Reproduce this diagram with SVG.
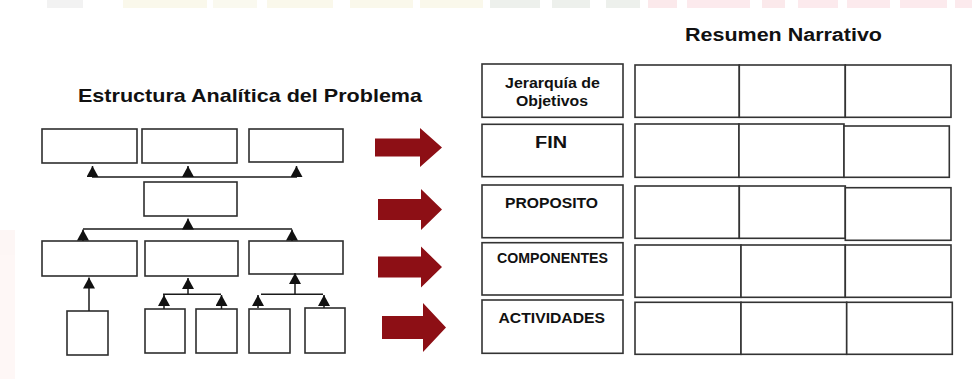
<svg xmlns="http://www.w3.org/2000/svg" width="972" height="379" viewBox="0 0 972 379">
<style>
.box{fill:#fff;stroke:#2e2e2e;stroke-width:1.6}
.cell{fill:#fff;stroke:#333;stroke-width:1.6}
.ln{fill:none;stroke:#1a1a1a;stroke-width:1.5}
.ar{fill:none;stroke:#1a1a1a;stroke-width:1.5;marker-end:url(#tri)}
.red{fill:#8d0f15}
.t{font-family:"Liberation Sans",Arial,sans-serif;font-weight:bold;fill:#111;text-anchor:start}
.band{opacity:0.35}
</style>
<defs>
<marker id="tri" markerUnits="userSpaceOnUse" markerWidth="11" markerHeight="12" viewBox="0 0 11 12" refX="11" refY="6" orient="auto">
<path d="M0,0 L11,6 L0,12 Z" fill="#111"/>
</marker>
</defs>
<rect width="972" height="379" fill="#fff"/>
<g id="background-band" class="band">
<rect x="47" y="0" width="36" height="8" fill="#dcdcdc"/>
<rect x="123" y="0" width="84" height="8" fill="#f1ecc8"/>
<rect x="213" y="0" width="44" height="8" fill="#f3efd2"/>
<rect x="267" y="0" width="66" height="8" fill="#f1ecc8"/>
<rect x="350" y="0" width="63" height="8" fill="#f1ecc8"/>
<rect x="420" y="0" width="63" height="8" fill="#f1ecc8"/>
<rect x="490" y="0" width="50" height="8" fill="#cdd6c9"/>
<rect x="552" y="0" width="38" height="8" fill="#cdd6c9"/>
<rect x="606" y="0" width="34" height="8" fill="#cdd6c9"/>
<rect x="648" y="0" width="29" height="8" fill="#f4c2c8"/>
<rect x="687" y="0" width="63" height="8" fill="#f7c6cc"/>
<rect x="762" y="0" width="23" height="8" fill="#f4c2c8"/>
<rect x="798" y="0" width="40" height="8" fill="#f7c6cc"/>
<rect x="847" y="0" width="43" height="8" fill="#f7c6cc"/>
<rect x="900" y="0" width="47" height="8" fill="#f7c6cc"/>
<rect x="955" y="0" width="17" height="8" fill="#f7c6cc"/>
<rect x="0" y="230" width="15" height="149" fill="#fbe8e4"/>
</g>

<text id="title-left" class="t" x="78" y="101.5" font-size="19" textLength="344" lengthAdjust="spacingAndGlyphs">Estructura Analítica del Problema</text>
<text id="title-right" class="t" x="685" y="41" font-size="18" textLength="197" lengthAdjust="spacingAndGlyphs">Resumen Narrativo</text>

<g id="tree-nodes">
<g id="n-top1"><rect class="box" x="42" y="129" width="95" height="34"/></g>
<g id="n-top2"><rect class="box" x="142" y="129" width="95" height="34"/></g>
<g id="n-top3"><rect class="box" x="249" y="129" width="94" height="33"/></g>
<g id="n-mid"><rect class="box" x="144" y="182" width="93" height="34"/></g>
<g id="n-row1"><rect class="box" x="42" y="241" width="95" height="35"/></g>
<g id="n-row2"><rect class="box" x="145" y="241" width="93" height="35"/></g>
<g id="n-row3"><rect class="box" x="249" y="241" width="94" height="33"/></g>
<g id="n-bot1"><rect class="box" x="67" y="311" width="41" height="44"/></g>
<g id="n-bot2"><rect class="box" x="145" y="309" width="40" height="44"/></g>
<g id="n-bot3"><rect class="box" x="196" y="309" width="41" height="44"/></g>
<g id="n-bot4"><rect class="box" x="249" y="309" width="41" height="44"/></g>
<g id="n-bot5"><rect class="box" x="305" y="308" width="40" height="45"/></g>
</g>

<g id="connectors">
<path class="ln" d="M92,177 H297"/>
<path class="ar" d="M92.5,177 V166"/>
<path class="ar" d="M188,177 V166"/>
<path class="ar" d="M296.5,177 V166"/>
<path class="ln" d="M83,229 H292"/>
<path class="ar" d="M188,229 V218.5"/>
<path class="ar" d="M83,241 V229.5"/>
<path class="ar" d="M292,241 V229.5"/>
<path class="ar" d="M89,311 V277.5"/>
<path class="ln" d="M163,294.3 H221"/>
<path class="ar" d="M188,294.3 V278"/>
<path class="ar" d="M164,309 V295"/>
<path class="ar" d="M221.5,309 V295"/>
<path class="ln" d="M261,294.3 H323"/>
<path class="ar" d="M295,294.3 V273"/>
<path class="ar" d="M258,308 V295"/>
<path class="ar" d="M324,308 V295"/>
</g>

<g id="red-arrows">
<polygon class="red" points="375,138.5 420,138.5 420,128 442,147.5 420,167 420,156.5 375,156.5"/>
<polygon class="red" points="378,199 421,199 421,189 442,209.5 421,230 421,220 378,220"/>
<polygon class="red" points="378,256.5 421,256.5 421,246.5 442,267 421,287.5 421,277.5 378,277.5"/>
<polygon class="red" points="382,316 423,316 423,303 446,327.5 423,352 423,339 382,339"/>
</g>

<g id="labels">
<g id="lbl-jerarquia"><rect class="cell" x="482" y="64" width="141" height="53.3"/>
<text class="t" x="505" y="88.3" font-size="14" textLength="95" lengthAdjust="spacingAndGlyphs">Jerarquía de</text>
<text class="t" x="516" y="106" font-size="14" textLength="72" lengthAdjust="spacingAndGlyphs">Objetivos</text></g>
<g id="lbl-fin"><rect class="cell" x="482" y="124.3" width="141" height="52.4"/>
<text class="t" x="535" y="148" font-size="16" textLength="32" lengthAdjust="spacingAndGlyphs">FIN</text></g>
<g id="lbl-proposito"><rect class="cell" x="482" y="185" width="141" height="52.7"/>
<text class="t" x="505" y="207.5" font-size="15" textLength="93" lengthAdjust="spacingAndGlyphs">PROPOSITO</text></g>
<g id="lbl-componentes"><rect class="cell" x="482" y="242.7" width="141" height="52.3"/>
<text class="t" x="497" y="263.3" font-size="14" textLength="111" lengthAdjust="spacingAndGlyphs">COMPONENTES</text></g>
<g id="lbl-actividades"><rect class="cell" x="482" y="300" width="141" height="53.3"/>
<text class="t" x="498.5" y="323" font-size="15" textLength="106.5" lengthAdjust="spacingAndGlyphs">ACTIVIDADES</text></g>
</g>

<g id="table">
<g id="row1">
<rect class="cell" x="635" y="65" width="104.3" height="52.3"/>
<rect class="cell" x="739.3" y="65" width="106" height="52.3"/>
<rect class="cell" x="845.3" y="65" width="105.7" height="52.3"/>
</g>
<g id="row2">
<rect class="cell" x="635" y="124" width="104" height="53.3"/>
<rect class="cell" x="739" y="124" width="105" height="53.3"/>
<rect class="cell" x="844" y="126" width="105.3" height="51.3"/>
</g>
<g id="row3">
<rect class="cell" x="635" y="186" width="104.3" height="52.3"/>
<rect class="cell" x="739.3" y="186" width="106" height="52.3"/>
<rect class="cell" x="845.3" y="187.7" width="105.7" height="52.6"/>
</g>
<g id="row4">
<rect class="cell" x="635" y="245" width="106" height="52.3"/>
<rect class="cell" x="741" y="245" width="104.3" height="52.3"/>
<rect class="cell" x="845.3" y="245" width="105.7" height="52.3"/>
</g>
<g id="row5">
<rect class="cell" x="635" y="302.3" width="106" height="52"/>
<rect class="cell" x="741" y="302.3" width="105.7" height="52"/>
<rect class="cell" x="846.7" y="302.3" width="105.6" height="52"/>
</g>
</g>
</svg>
